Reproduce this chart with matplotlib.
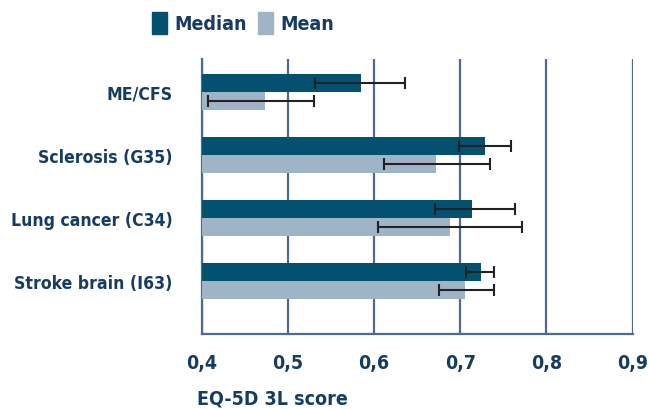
import matplotlib
matplotlib.use("Agg")
import matplotlib.pyplot as plt
from matplotlib.patches import Patch
from matplotlib import font_manager as fm
import numpy as np

categories = ["ME/CFS", "Sclerosis (G35)", "Lung cancer (C34)", "Stroke brain (I63)"]
median_vals = [0.585, 0.729, 0.714, 0.724]
median_lo = [0.532, 0.699, 0.671, 0.707]
median_hi = [0.636, 0.759, 0.763, 0.739]
mean_vals = [0.473, 0.672, 0.688, 0.705]
mean_lo = [0.407, 0.611, 0.605, 0.675]
mean_hi = [0.530, 0.734, 0.772, 0.739]
xticks = [0.4, 0.5, 0.6, 0.7, 0.8, 0.9]
xtick_labels = ["0,4", "0,5", "0,6", "0,7", "0,8", "0,9"]

condensed = [f for f in fm.fontManager.ttflist
             if f.name == "DejaVu Sans" and str(f.stretch) in ("condensed", "semi-condensed", "500", "600")]
if condensed:
    FAM = ["DejaVu Sans"]
    STRETCH = "condensed"
    W = "bold"
else:
    FAM = ["Lato", "DejaVu Sans"]
    STRETCH = "normal"
    W = "bold"
plt.rcParams['font.family'] = FAM
TXT = "#163C63"
C_MED = "#03506F"
C_MEAN = "#A0B4C8"
GRID = "#4F6B8C"

def fp(size):
    return fm.FontProperties(family=FAM, size=size, weight=W, stretch=STRETCH)

fig = plt.figure(figsize=(6.5, 4.1), dpi=100)
ax = fig.add_axes([0.3103, 0.1829, 0.663, 0.6707])

y = np.arange(len(categories))
h = 0.285
left = 0.4
med = np.array(median_vals)
mea = np.array(mean_vals)
ax.barh(y - h/2, med - left, left=left, height=h, color=C_MED, zorder=3)
ax.barh(y + h/2, mea - left, left=left, height=h, color=C_MEAN, zorder=3)

ax.errorbar(med, y - h/2, xerr=[med - np.array(median_lo), np.array(median_hi) - med],
            fmt='none', ecolor='#222222', elinewidth=1.5, capsize=4.5, capthick=1.5, zorder=4)
ax.errorbar(mea, y + h/2, xerr=[mea - np.array(mean_lo), np.array(mean_hi) - mea],
            fmt='none', ecolor='#222222', elinewidth=1.5, capsize=4.5, capthick=1.5, zorder=4)

ax.set_xlim(0.4, 0.9)
ax.set_ylim(3.84, -0.52)
ax.set_xticks(xticks)
ax.set_xticklabels(xtick_labels, color=TXT, fontproperties=fp(14))
ax.set_yticks(y)
ax.set_yticklabels(categories, color=TXT, fontproperties=fp(12.6))
ax.tick_params(axis='x', length=0, pad=14)
ax.tick_params(axis='y', length=0, pad=21)
ax.xaxis.grid(True, color=GRID, linewidth=1.6, zorder=0)
ax.yaxis.grid(False)
for s in ['top', 'right']:
    ax.spines[s].set_visible(False)
for s in ['left', 'bottom']:
    ax.spines[s].set_color(GRID)
    ax.spines[s].set_linewidth(1.6)
ax.set_axisbelow(True)

fig.text(197/650, 1 - 399/410, "EQ-5D 3L score", color=TXT,
         fontproperties=fp(14), ha='left', va='center')

handles = [Patch(color=C_MED, label="Median"), Patch(color=C_MEAN, label="Mean")]
leg = fig.legend(handles=handles, loc='center', bbox_to_anchor=(243/650, 1 - 24/410),
                 ncol=2, frameon=False, handlelength=0.78, handleheight=1.35,
                 handletextpad=0.35, columnspacing=0.6, prop=fp(14))
for t in leg.get_texts():
    t.set_color(TXT)

fig.savefig("out.png", dpi=100)
